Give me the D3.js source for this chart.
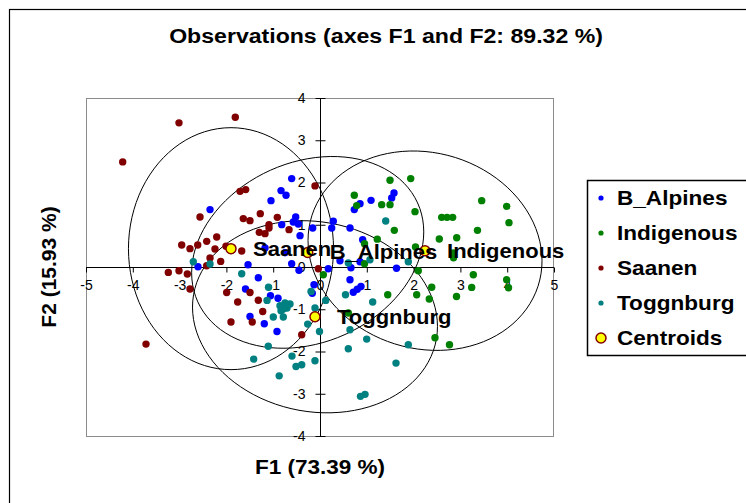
<!DOCTYPE html>
<html>
<head>
<meta charset="utf-8">
<script src="https://cdn.jsdelivr.net/npm/d3@7"></script>
<style>
  body { margin: 0; background: #fff; }
  svg { display: block; font-family: "Liberation Sans", Arial, sans-serif; }
</style>
</head>
<body>
<svg id="chart" width="746" height="503"></svg>
<script>
// Factor scores of the observations on F1 / F2, one array per breed
const groups = ["B_Alpines", "Indigenous", "Saanen", "Toggnburg"];
const groupColors = ["#0000FF", "#008000", "#800000", "#008080"];

const bAlpines = [
  [-0.605, 2.092], [-0.833, 1.808], [-0.726, 1.697], [-1.047, 1.571], [-2.350, 1.358],
  [-0.519, 1.185], [-0.571, 1.066], [-0.464, 1.019], [-0.818, 1.002], [-0.156, 0.924],
  [-0.427, 0.742], [-1.175, 0.450], [-0.748, 0.339], [-1.538, 0.055], [-0.605, 0.078],
  [-2.607, 0.007], [-0.449, -0.076], [-1.318, -0.254], [-1.592, -0.521], [-1.058, -0.680],
  [-0.897, -0.739], [-1.496, -1.171], [-1.190, -1.344], [-0.919, -1.526], [-0.128, -0.419],
  [-0.165, -0.621], [0.177, -0.040], [1.581, 1.754], [1.532, 1.635], [1.090, 1.578],
  [0.855, 1.500], [0.733, 1.358], [0.284, 1.085], [0.250, 0.924], [0.641, 0.924],
  [0.912, 0.647], [0.427, 0.149], [0.855, 0.126], [0.662, -0.017], [1.635, -0.028],
  [0.641, -0.301], [0.712, -0.597], [0.797, -0.526], [0.876, -0.460]
];

const indigenous = [
  [1.496, 2.052], [1.938, 2.092], [0.733, 1.697], [0.784, 1.453], [1.318, 1.476],
  [1.496, 1.476], [2.030, 1.310], [2.600, 1.175], [2.714, 1.175], [2.835, 1.175],
  [3.455, 1.571], [3.989, 1.436], [4.038, 1.050], [3.365, 0.867], [2.921, 0.694],
  [2.549, 0.664], [1.588, 0.867], [1.224, 0.659], [0.951, 0.552], [2.041, 0.474],
  [2.848, 0.332], [0.951, 0.078], [2.100, -0.088], [3.276, -0.182], [3.989, -0.301],
  [3.241, -0.483], [4.028, -0.491], [2.387, -0.479], [2.066, -0.656], [1.447, -0.656],
  [2.335, -0.758], [2.917, -0.697], [2.457, -1.675], [2.767, -1.841], [0.605, -1.090],
  [0.071, -0.182], [2.853, 0.220]
];

const saanen = [
  [-4.216, 2.488], [-3.013, 3.412], [-1.810, 3.545], [-0.107, 1.919], [-1.709, 1.791],
  [-1.588, 1.832], [-2.564, 1.185], [-1.639, 1.145], [-1.496, 1.097], [-1.276, 1.263],
  [-0.912, 1.175], [-1.090, 1.002], [-1.090, 0.924], [-0.662, 0.884], [-1.297, 0.820],
  [-1.175, 0.789], [-2.207, 0.711], [-2.955, 0.521], [-2.778, 0.434], [-2.613, 0.521],
  [-2.421, 0.607], [-2.244, 0.427], [-2.009, 0.493], [-1.673, 0.379], [-2.350, 0.213],
  [-2.122, 0.133], [-2.421, 0.031], [-0.036, -0.040], [-3.241, -0.128], [-3.013, -0.088],
  [-2.835, -0.166], [-2.778, -0.521], [-1.994, -0.602], [-1.496, -0.602], [-1.759, -0.829],
  [-1.318, -0.787], [-1.224, -1.052], [-1.902, -1.303], [-1.447, -1.303], [-3.718, -1.825],
  [-0.391, -1.604]
];

const toggnburg = [
  [-2.707, 0.126], [-2.350, 0.071], [-1.673, -0.159], [-1.100, -0.479], [-1.132, -0.791],
  [-0.855, -0.917], [-0.748, -0.853], [-0.641, -0.877], [-0.784, -0.995], [-0.833, -1.036],
  [-0.705, -0.972], [-0.998, -1.185], [-0.784, -1.185], [-0.192, -0.578], [-0.107, -0.972],
  [0.122, -0.791], [-0.263, -1.351], [-0.011, -1.526], [-1.105, -1.877], [-1.417, -2.180],
  [-0.598, -2.109], [-0.513, -2.355], [-0.391, -2.315], [-0.872, -2.576], [-0.107, -2.220],
  [0.545, -0.656], [1.126, -0.829], [0.641, -1.486], [0.998, -1.706], [0.605, -1.936],
  [1.887, -1.841], [1.624, -2.275], [0.865, -3.062], [0.962, -3.014], [1.404, 1.090],
  [0.605, 0.095], [1.068, 0.173], [1.887, 0.126]
];

const groupPoints = [bAlpines, indigenous, saanen, toggnburg];

// Group centroids (same order as groups)
const centroids = [[-0.263, 0.346], [2.244, 0.386], [-1.902, 0.434], [-0.107, -1.178]];

// Confidence ellipse covariance per group: [var F1, var F2, cov F1-F2]
const ellipseCov = [[6.15, 5.15, 1.2], [6.25, 5.57, -0.6], [4.8, 8.2, 0.0], [6.85, 5.17, -0.6]];

const xTickValues = [-5, -4, -3, -2, -1, 0, 1, 2, 3, 4, 5];
const yTickValues = [-4, -3, -2, -1, 0, 1, 2, 3, 4];

const titleText = "Observations (axes F1 and F2: 89.32 %)";
const xTitle = "F1 (73.39 %)";
const yTitle = "F2 (15.93 %)";

const svg = d3.select("#chart");
const plot = { left: 86, right: 554, top: 98, bottom: 436 };

const x = d3.scaleLinear().domain([-5, 5]).range([plot.left, plot.right]);
const y = d3.scaleLinear().domain([-4, 4]).range([plot.bottom, plot.top]);

const stretch = 1.1;
function stretchedText(sel, px, py, sx = stretch) {
  return sel.attr("transform", `translate(${px},${py}) scale(${sx},1)`);
}

// outer chart frame
svg.append("rect")
  .attr("x", 9.5).attr("y", 9.5)
  .attr("width", 760).attr("height", 520)
  .attr("fill", "none").attr("stroke", "#000").attr("stroke-width", 1.2);

// plot area frame
svg.append("rect")
  .attr("x", plot.left + 0.5).attr("y", plot.top + 0.5)
  .attr("width", plot.right - plot.left - 1).attr("height", plot.bottom - plot.top)
  .attr("fill", "none").attr("stroke", "#8c8c8c").attr("stroke-width", 1);

// axes through the origin
const xAxis = d3.axisBottom(x).tickValues(xTickValues).tickSize(5).tickPadding(8)
  .tickFormat(d3.format("d"));
const yAxis = d3.axisLeft(y).tickValues(yTickValues).tickSize(5).tickPadding(10)
  .tickFormat(d3.format("d"));

const gx = svg.append("g").attr("transform", `translate(0,${Math.round(y(0)) + 0.5})`).call(xAxis);
const gy = svg.append("g").attr("transform", `translate(${Math.round(x(0)) + 0.5},0)`).call(yAxis);

[gx, gy].forEach(g => {
  g.select(".domain").attr("stroke", "#000");
  g.selectAll(".tick line").attr("stroke", "#000");
  g.selectAll(".tick text")
    .attr("font-size", 14)
    .attr("font-family", "\"Liberation Sans\", Arial, sans-serif")
    .attr("fill", "#000")
    .text(d => String(d).replace("\u2212", "-"));
});
gy.selectAll(".tick line").attr("x1", -5).attr("x2", 5);
gx.select(".domain").attr("d", `M${plot.left},0H${plot.right}`);
gy.select(".domain").attr("d", `M0,${plot.top}V${plot.bottom}`);

// confidence ellipses
const line = d3.line().x(d => x(d[0])).y(d => y(d[1])).curve(d3.curveLinearClosed);
ellipseCov.forEach((c, i) => {
  const [sxx, syy, sxy] = c;
  const l11 = Math.sqrt(sxx), l21 = sxy / l11, l22 = Math.sqrt(syy - l21 * l21);
  const [cx, cy] = centroids[i];
  const pts = d3.range(0, 96).map(k => {
    const t = (k / 96) * 2 * Math.PI;
    const u = Math.cos(t), v = Math.sin(t);
    return [cx + l11 * u, cy + l21 * u + l22 * v];
  });
  svg.append("path")
    .attr("d", line(pts))
    .attr("fill", "none")
    .attr("stroke", "#000")
    .attr("stroke-width", 1);
});

// observations
groupPoints.forEach((pts, i) => {
  svg.append("g").selectAll("circle")
    .data(pts).join("circle")
    .attr("cx", d => x(d[0])).attr("cy", d => y(d[1]))
    .attr("r", 3.7)
    .attr("fill", groupColors[i]);
});

// centroids
svg.append("g").selectAll("circle")
  .data(centroids).join("circle")
  .attr("cx", d => x(d[0])).attr("cy", d => y(d[1]))
  .attr("r", 5)
  .attr("fill", "#FFFF00")
  .attr("stroke", "#800000")
  .attr("stroke-width", 1.5);

// centroid labels
centroids.forEach((d, i) => {
  stretchedText(svg.append("text"), x(d[0]) + 22, y(d[1]) + 7)
    .attr("font-size", 20).attr("font-weight", "bold").attr("fill", "#000")
    .text(groups[i]);
});

// title and axis titles
stretchedText(svg.append("text"), 386, 43)
  .attr("text-anchor", "middle").attr("font-size", 21).attr("font-weight", "bold")
  .text(titleText);
stretchedText(svg.append("text"), 320, 474)
  .attr("text-anchor", "middle").attr("font-size", 20.5).attr("font-weight", "bold")
  .text(xTitle);
svg.append("text")
  .attr("transform", "translate(56,267) rotate(-90)")
  .attr("text-anchor", "middle").attr("font-size", 21).attr("font-weight", "bold")
  .text(yTitle);

// legend
const legend = svg.append("g");
legend.append("rect")
  .attr("x", 587.5).attr("y", 180.5).attr("width", 200).attr("height", 175)
  .attr("fill", "#fff").attr("stroke", "#000").attr("stroke-width", 1.5);
const legendItems = groups.map((g, i) => ({ name: g, color: groupColors[i], centroid: false }))
  .concat([{ name: "Centroids", color: "#FFFF00", centroid: true }]);
legendItems.forEach((it, i) => {
  const cy = 198 + i * 35;
  legend.append("circle")
    .attr("cx", 601).attr("cy", cy)
    .attr("r", it.centroid ? 5 : 2.6)
    .attr("fill", it.color)
    .attr("stroke", it.centroid ? "#800000" : "none")
    .attr("stroke-width", 1.5);
  stretchedText(legend.append("text"), 617, cy + 7, 1.13)
    .attr("font-size", 20).attr("font-weight", "bold").text(it.name);
});
</script>
</body>
</html>
